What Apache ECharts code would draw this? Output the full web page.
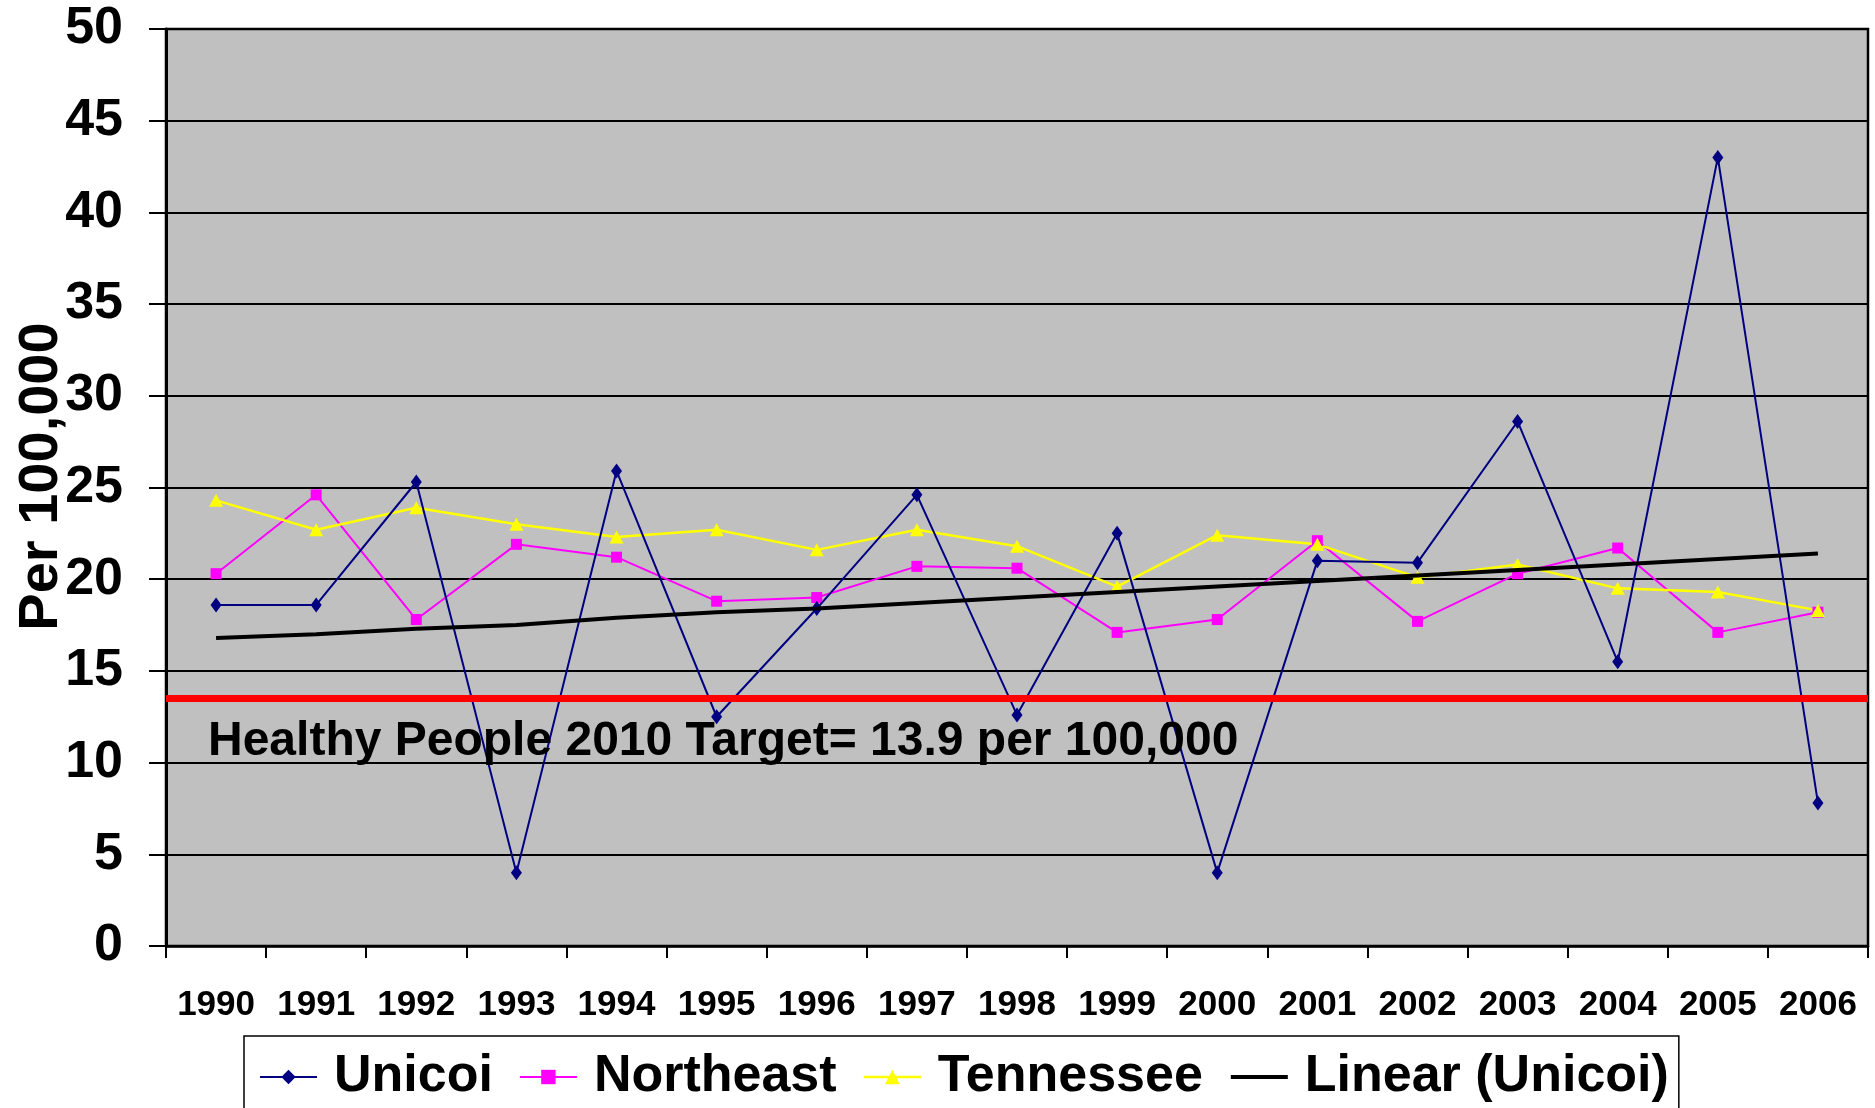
<!DOCTYPE html>
<html>
<head>
<meta charset="utf-8">
<title>Unicoi rate per 100,000</title>
<script src="https://cdn.jsdelivr.net/npm/echarts@6/dist/echarts.min.js"></script>
<style>
  html, body { margin: 0; padding: 0; background: #fff; }
  #chart { width: 1875px; height: 1108px; }
</style>
</head>
<body>
<div id="chart"></div>
<script>
const years = ['1990', '1991', '1992', '1993', '1994', '1995', '1996', '1997', '1998',
  '1999', '2000', '2001', '2002', '2003', '2004', '2005', '2006']

const unicoi = [18.6, 18.6, 25.3, 4.0, 25.9, 12.5, 18.4, 24.6, 12.6, 22.5, 4.0, 21.0, 20.9, 28.6, 15.5, 43.0, 7.8]
const northeast = [20.3, 24.6, 17.8, 21.9, 21.2, 18.8, 19.0, 20.7, 20.6, 17.1, 17.8, 22.1, 17.7, 20.3, 21.7, 17.1, 18.2]
const tennessee = [24.3, 22.7, 23.9, 23.0, 22.3, 22.7, 21.6, 22.7, 21.8, 19.6, 22.4, 21.9, 20.1, 20.8, 19.5, 19.3, 18.3]
// trend line as it is drawn in the picture
const linearUnicoi = [16.8, 17.0, 17.3, 17.5, 17.9, 18.2, 18.4, 18.7, 19.0, 19.3, 19.6, 19.9, 20.2, 20.5, 20.8, 21.1, 21.4]

const targetValue = 13.5
const targetText = 'Healthy People 2010 Target= 13.9 per 100,000'

const yTicks = { min: 0, max: 50, interval: 5 }

const font = '"Liberation Sans", Arial, sans-serif'

const chart = echarts.init(document.getElementById('chart'))

chart.setOption({
  animation: false,
  textStyle: { fontFamily: font },
  grid: {
    left: 166,
    right: 7,
    top: 29,
    bottom: 162,
    containLabel: false,
    outerBoundsMode: 'none',
    show: true,
    backgroundColor: '#C0C0C0',
    borderColor: '#000',
    borderWidth: 2.5
  },
  legend: {
    left: 244,
    top: 1036,
    orient: 'horizontal',
    backgroundColor: '#fff',
    borderColor: '#000',
    borderWidth: 1.5,
    padding: [11, 10, 30, 15],
    itemWidth: 57,
    itemHeight: 18,
    itemGap: 26,
    selectedMode: false,
    lineStyle: { width: 'inherit' },
    textStyle: {
      fontFamily: font,
      fontSize: 52,
      fontWeight: 'bold',
      color: '#000',
      lineHeight: 60,
      padding: [0, 0, 0, 12]
    },
    data: [
      'Unicoi',
      'Northeast',
      'Tennessee',
      { name: 'Linear (Unicoi)', itemStyle: { opacity: 0 } }
    ]
  },
  xAxis: {
    type: 'category',
    data: years,
    boundaryGap: true,
    axisLine: { lineStyle: { color: '#000', width: 2.5 } },
    axisTick: { show: true, interval: 0, length: 12, lineStyle: { color: '#000', width: 2 } },
    axisLabel: {
      interval: 0,
      margin: 42,
      color: '#000',
      fontFamily: font,
      fontSize: 35,
      fontWeight: 'bold'
    },
    splitLine: { show: false }
  },
  yAxis: {
    type: 'value',
    min: yTicks.min,
    max: yTicks.max,
    interval: yTicks.interval,
    name: 'Per 100,000',
    nameLocation: 'middle',
    nameGap: 96,
    nameMoveOverlap: false,
    nameTextStyle: {
      fontFamily: font,
      fontSize: 56,
      fontWeight: 'bold',
      color: '#000',
      padding: [0, 0, 0, 22]
    },
    axisLine: { show: true, lineStyle: { color: '#000', width: 3 } },
    axisTick: { show: true, length: 17, lineStyle: { color: '#000', width: 2 } },
    axisLabel: {
      margin: 43,
      color: '#000',
      fontFamily: font,
      fontSize: 52,
      fontWeight: 'bold'
    },
    splitLine: { show: true, lineStyle: { color: '#000', width: 2 } }
  },
  series: [
    {
      name: 'Unicoi',
      type: 'line',
      data: unicoi,
      symbol: 'diamond',
      symbolSize: [11, 15],
      lineStyle: { color: '#000080', width: 2 },
      itemStyle: { color: '#000080' },
      z: 3
    },
    {
      name: 'Northeast',
      type: 'line',
      data: northeast,
      symbol: 'rect',
      symbolSize: 11,
      lineStyle: { color: '#FF00FF', width: 2 },
      itemStyle: { color: '#FF00FF' },
      z: 2
    },
    {
      name: 'Tennessee',
      type: 'line',
      data: tennessee,
      symbol: 'triangle',
      symbolSize: [14, 13],
      lineStyle: { color: '#FFFF00', width: 2.5 },
      itemStyle: { color: '#FFFF00' },
      z: 2
    },
    {
      name: 'Linear (Unicoi)',
      type: 'line',
      data: linearUnicoi,
      symbol: 'none',
      lineStyle: { color: '#000', width: 4 },
      itemStyle: { color: '#000' },
      z: 4,
      markLine: {
        silent: true,
        symbol: 'none',
        label: { show: false },
        lineStyle: { color: '#FF0000', width: 7, type: 'solid' },
        data: [{ yAxis: targetValue }]
      }
    }
  ],
  graphic: [
    {
      type: 'text',
      left: 208,
      top: 718,
      z: 10,
      style: {
        text: targetText,
        fill: '#000',
        font: 'bold 48px ' + font
      }
    }
  ]
})
</script>
</body>
</html>
